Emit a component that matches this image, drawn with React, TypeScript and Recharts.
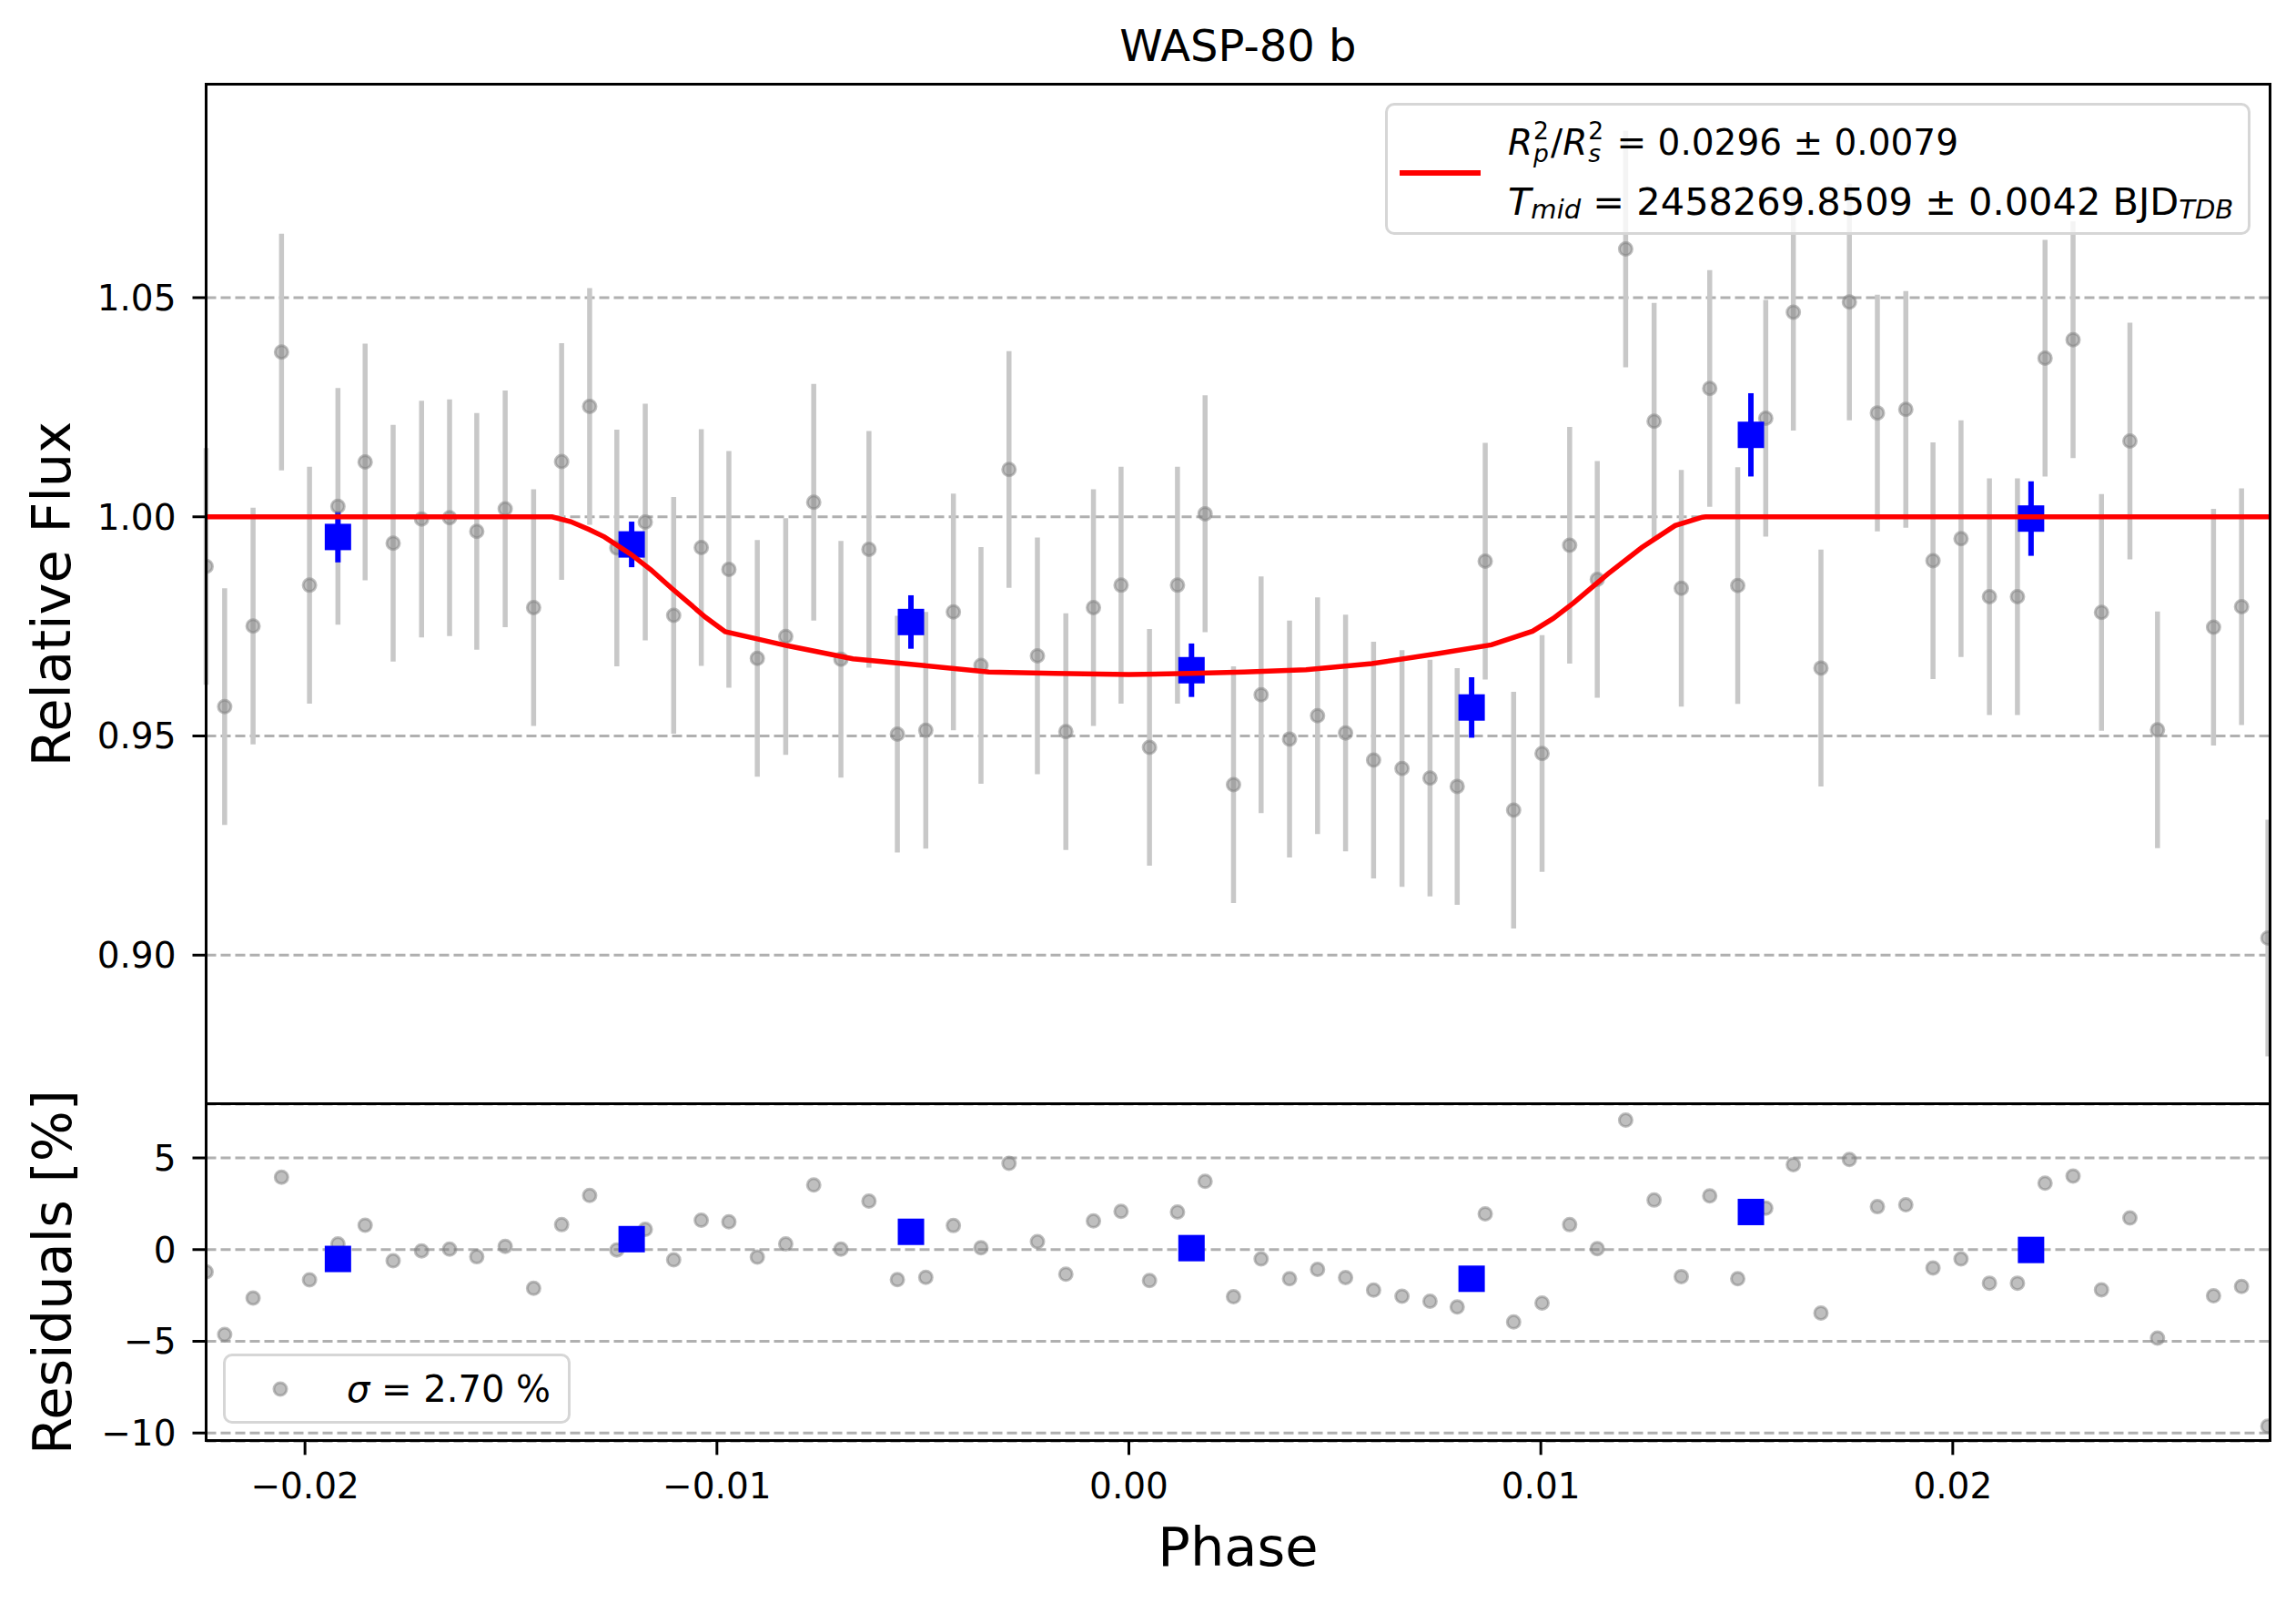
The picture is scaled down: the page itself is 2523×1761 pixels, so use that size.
import { ScatterChart, Scatter, XAxis, YAxis, CartesianGrid, ErrorBar } from 'recharts'

// light curve points (phase, relative flux) and residuals in %
const PHASE = [
  -0.0224, -0.02195, -0.02126, -0.02057, -0.01989, -0.0192, -0.01854, -0.01786, -0.01717, -0.01649,
  -0.01583, -0.01514, -0.01445, -0.01377, -0.01309, -0.01243, -0.01174, -0.01105, -0.01038, -0.00971,
  -0.00902, -0.00833, -0.00765, -0.00699, -0.00631, -0.00562, -0.00493, -0.00426, -0.00359, -0.00291,
  -0.00222, -0.00153, -0.00086, -0.00019, 0.0005, 0.00118, 0.00185, 0.00254, 0.00321, 0.0039,
  0.00458, 0.00526, 0.00594, 0.00663, 0.00731, 0.00797, 0.00865, 0.00934, 0.01003, 0.0107,
  0.01137, 0.01206, 0.01275, 0.01341, 0.0141, 0.01478, 0.01546, 0.01613, 0.0168, 0.01749,
  0.01817, 0.01886, 0.01952, 0.0202, 0.02089, 0.02157, 0.02224, 0.02292, 0.02361, 0.0243,
  0.02497, 0.02633, 0.02701, 0.02765,
]
const FLUX = [
  0.9887, 0.9567, 0.9751, 1.0376, 0.9844, 1.0024, 1.0125, 0.994, 0.9995, 0.9998,
  0.9967, 1.0018, 0.9793, 1.0126, 1.0252, 0.9929, 0.9988, 0.9775, 0.993, 0.988,
  0.9677, 0.9727, 1.0033, 0.9675, 0.9926, 0.9504, 0.9513, 0.9783, 0.9661, 1.0108,
  0.9683, 0.951, 0.9793, 0.9844, 0.9474, 0.9844, 1.0007, 0.9389, 0.9594, 0.9493,
  0.9546, 0.9507, 0.9445, 0.9426, 0.9404, 0.9385, 0.9899, 0.9331, 0.946, 0.9935,
  0.9857, 1.0611, 1.0218, 0.9837, 1.0293, 0.9843, 1.0225, 1.0467, 0.9655, 1.049,
  1.0237, 1.0245, 0.99, 0.995, 0.9818, 0.9818, 1.0362, 1.0404, 0.9782, 1.0173,
  0.9514, 0.9748, 0.9795, 0.9039,
]
const RESID = [
  -1.21, -4.63, -2.64, 3.95, -1.65, 0.31, 1.33, -0.61, -0.07, 0.02,
  -0.39, 0.18, -2.11, 1.36, 2.95, -0.02, 1.1, -0.56, 1.6, 1.51,
  -0.41, 0.31, 3.52, 0.02, 2.64, -1.64, -1.51, 1.31, 0.1, 4.7,
  0.43, -1.34, 1.56, 2.08, -1.69, 2.05, 3.72, -2.57, -0.51, -1.59,
  -1.08, -1.52, -2.21, -2.54, -2.82, -3.13, 1.95, -3.95, -2.91, 1.36,
  0.05, 7.06, 2.7, -1.47, 2.93, -1.59, 2.26, 4.63, -3.46, 4.91,
  2.34, 2.44, -1.0, -0.51, -1.83, -1.83, 3.62, 4.01, -2.19, 1.72,
  -4.83, -2.52, -2.01, -9.63,
]
const FLUX_ERR = 0.027

// binned points
const BIN_PHASE = [-0.0192, -0.01207, -0.00529, 0.00152, 0.00832, 0.0151, 0.0219]
const BIN_FLUX = [0.9954, 0.9937, 0.976, 0.965, 0.9565, 1.0187, 0.9996]
const BIN_ERR = [0.0058, 0.0052, 0.0061, 0.0061, 0.0069, 0.0095, 0.0085]
const BIN_RESID = [-0.51, 0.57, 0.97, 0.08, -1.59, 2.05, -0.02]

// transit model
const MODEL_PHASE = [
  -0.0224, -0.014, -0.01355, -0.0131, -0.01273, -0.01208, -0.0116, -0.0111, -0.01028, -0.0098,
  -0.009, -0.0083, -0.0067, -0.005, -0.0034, -0.0018, 0, 0.0015, 0.0028, 0.0043,
  0.0059, 0.0075, 0.0088, 0.0098, 0.0103, 0.0108, 0.01163, 0.01245, 0.01326, 0.01392,
  0.014, 0.0277,
]
const MODEL_FLUX = [
  1.0, 1.0, 0.9989, 0.9971, 0.9954, 0.9914, 0.9879, 0.9837, 0.9771, 0.9738,
  0.9721, 0.9706, 0.9676, 0.9661, 0.9646, 0.9643, 0.964, 0.9643, 0.9646, 0.9651,
  0.9665, 0.9688, 0.9708, 0.9739, 0.9768, 0.9804, 0.987, 0.993, 0.998, 0.9999,
  1.0, 1.0,
]

const X_TICKS = [-0.02, -0.01, 0, 0.01, 0.02]
const FLUX_TICKS = [0.9, 0.95, 1.0, 1.05]
const RESID_TICKS = [-10, -5, 0, 5]
const X_DOMAIN = [-0.0224, 0.0277]
const FLUX_DOMAIN = [0.8661, 1.0987]
const RESID_DOMAIN = [-10.45, 7.93]

// figure geometry (px)
const W = 2523
const H = 1761
const PLOT_L = 226.5
const PLOT_R = 2494.4
const MAIN_T = 92.5
const MAIN_B = 1212.5
const RES_B = 1582.8
const FONT = 'DejaVu Sans'

const fluxPoints = PHASE.map((x, i) => ({ x, y: FLUX[i], err: FLUX_ERR }))
const residPoints = PHASE.map((x, i) => ({ x, y: RESID[i] }))
const binPoints = BIN_PHASE.map((x, i) => ({ x, y: BIN_FLUX[i], err: BIN_ERR[i] }))
const binResid = BIN_PHASE.map((x, i) => ({ x, y: BIN_RESID[i] }))
const modelPoints = MODEL_PHASE.map((x, i) => ({ x, y: MODEL_FLUX[i] }))

const minus = (s: string) => s.replace('-', '\u2212')

const GrayDot = (p: any) => (
  <circle cx={p.cx} cy={p.cy} r={7} fill="#808080" fillOpacity={0.5} stroke="#808080" strokeOpacity={0.5} strokeWidth={3} />
)
const BlueSquare = (p: any) => <rect x={p.cx - 14.5} y={p.cy - 14.5} width={29} height={29} fill="#0000ff" />
const NoDot = () => <g />

const tickStyle = { fontSize: 39, fill: '#000', fontFamily: FONT }
const tickLine = { stroke: '#000', strokeWidth: 3 }

function MainPanel() {
  return (
    <ScatterChart width={W} height={MAIN_B} margin={{ top: MAIN_T, right: W - PLOT_R, bottom: 0, left: 0 }}>
      <CartesianGrid vertical={false} stroke="#b0b0b0" strokeWidth={3} strokeDasharray="11 5" />
      <XAxis type="number" dataKey="x" domain={X_DOMAIN} allowDataOverflow ticks={X_TICKS} hide />
      <YAxis
        type="number"
        dataKey="y"
        domain={FLUX_DOMAIN}
        allowDataOverflow
        ticks={FLUX_TICKS}
        width={PLOT_L}
        axisLine={false}
        tickLine={tickLine}
        tickSize={15}
        tickMargin={18}
        tick={tickStyle}
        tickFormatter={(v: number) => v.toFixed(2)}
      />
      <Scatter data={fluxPoints} dataKey="y" shape={GrayDot} isAnimationActive={false}>
        <ErrorBar dataKey="err" direction="y" width={0} stroke="#c8c8c8" strokeWidth={5.5} />
      </Scatter>
      <Scatter data={binPoints} dataKey="y" shape={BlueSquare} isAnimationActive={false}>
        <ErrorBar dataKey="err" direction="y" width={0} stroke="#0000ff" strokeWidth={6} />
      </Scatter>
      <Scatter
        data={modelPoints}
        dataKey="y"
        shape={NoDot}
        line={{ stroke: '#ff0000', strokeWidth: 5.5 }}
        isAnimationActive={false}
      />
    </ScatterChart>
  )
}

function ResidualPanel() {
  return (
    <ScatterChart width={W} height={H - MAIN_B} margin={{ top: 0, right: W - PLOT_R, bottom: 0, left: 0 }}>
      <CartesianGrid vertical={false} stroke="#b0b0b0" strokeWidth={3} strokeDasharray="11 5" />
      <XAxis
        type="number"
        dataKey="x"
        domain={X_DOMAIN}
        allowDataOverflow
        ticks={X_TICKS}
        height={H - MAIN_B - (RES_B - MAIN_B)}
        axisLine={false}
        tickLine={tickLine}
        tickSize={15}
        tickMargin={20}
        tick={tickStyle}
        tickFormatter={(v: number) => minus(v.toFixed(2))}
      />
      <YAxis
        type="number"
        dataKey="y"
        domain={RESID_DOMAIN}
        allowDataOverflow
        ticks={RESID_TICKS}
        width={PLOT_L}
        axisLine={false}
        tickLine={tickLine}
        tickSize={15}
        tickMargin={18}
        tick={tickStyle}
        tickFormatter={(v: number) => minus(String(v))}
      />
      <Scatter data={residPoints} dataKey="y" shape={GrayDot} isAnimationActive={false} />
      <Scatter data={binResid} dataKey="y" shape={BlueSquare} isAnimationActive={false} />
    </ScatterChart>
  )
}

const Stack = ({ sup, sub }: { sup: string; sub: string }) => (
  <span
    style={{
      display: 'inline-flex',
      flexDirection: 'column',
      fontSize: '0.68em',
      lineHeight: 0.95,
      verticalAlign: 'middle',
      margin: '0 2px 0 1px',
    }}
  >
    <span>{sup}</span>
    <span style={{ fontStyle: 'italic' }}>{sub}</span>
  </span>
)

const frame = (top: number, bottom: number): React.CSSProperties => ({
  position: 'absolute',
  left: PLOT_L - 1.5,
  top: top - 1.5,
  width: PLOT_R - PLOT_L + 3,
  height: bottom - top + 3,
  border: '3px solid #000',
  boxSizing: 'border-box',
  pointerEvents: 'none',
})

export default function App() {
  const legendBox: React.CSSProperties = {
    position: 'absolute',
    border: '3px solid #d6d6d6',
    borderRadius: 10,
    background: 'rgba(255,255,255,0.8)',
    boxSizing: 'border-box',
    fontFamily: FONT,
    color: '#000',
  }
  const legendLine: React.CSSProperties = {
    position: 'absolute',
    left: 132,
    height: 50,
    display: 'flex',
    alignItems: 'center',
    whiteSpace: 'nowrap',
    fontSize: 41,
  }

  return (
    <div style={{ position: 'absolute', left: 0, top: 0, width: W, height: H, background: '#fff', overflow: 'hidden' }}>
      <div style={{ position: 'absolute', left: 0, top: 0 }}>
        <MainPanel />
      </div>
      <div style={{ position: 'absolute', left: 0, top: MAIN_B }}>
        <ResidualPanel />
      </div>

      <div style={frame(MAIN_T, MAIN_B)} />
      <div style={frame(MAIN_B, RES_B)} />

      <svg width={W} height={H} style={{ position: 'absolute', left: 0, top: 0, pointerEvents: 'none' }}>
        <text x={(PLOT_L + PLOT_R) / 2} y={67} textAnchor="middle" fontSize={48} fontFamily={FONT} fill="#000">
          WASP-80 b
        </text>
        <text
          transform={`translate(77, ${(MAIN_T + MAIN_B) / 2}) rotate(-90)`}
          textAnchor="middle"
          fontSize={59}
          fontFamily={FONT}
          fill="#000"
        >
          Relative Flux
        </text>
        <text
          transform={`translate(78, ${(MAIN_B + RES_B) / 2}) rotate(-90)`}
          textAnchor="middle"
          fontSize={59}
          fontFamily={FONT}
          fill="#000"
        >
          Residuals [%]
        </text>
        <text x={(PLOT_L + PLOT_R) / 2} y={1720} textAnchor="middle" fontSize={59} fontFamily={FONT} fill="#000">
          Phase
        </text>
      </svg>

      {/* model legend */}
      <div style={{ ...legendBox, left: 1522, top: 113, width: 951, height: 145 }}>
        <div style={{ position: 'absolute', left: 13, top: 71, width: 89, height: 5.5, background: '#ff0000' }} />
        <div style={{ ...legendLine, top: 15, fontSize: 39 }}>
          <i>R</i>
          <Stack sup="2" sub="p" />
          /<i>R</i>
          <Stack sup="2" sub="s" />
          <span>&nbsp;= 0.0296 ± 0.0079</span>
        </div>
        <div style={{ ...legendLine, top: 80, fontSize: 41.5 }}>
          <i>T</i>
          <span style={{ fontSize: '0.7em', fontStyle: 'italic', position: 'relative', top: 9 }}>mid</span>
          <span>&nbsp;= 2458269.8509 ± 0.0042 BJD</span>
          <span style={{ fontSize: '0.7em', fontStyle: 'italic', position: 'relative', top: 9 }}>TDB</span>
        </div>
      </div>

      {/* residual legend */}
      <div style={{ ...legendBox, left: 245, top: 1487, width: 382, height: 77 }}>
        <svg width={40} height={40} style={{ position: 'absolute', left: 40, top: 16 }}>
          <circle cx={20} cy={20} r={7} fill="#808080" fillOpacity={0.5} stroke="#808080" strokeOpacity={0.5} strokeWidth={3} />
        </svg>
        <div style={{ position: 'absolute', left: 133, top: 11, height: 50, display: 'flex', alignItems: 'center', fontSize: 40, whiteSpace: 'nowrap' }}>
          <i>σ</i>&nbsp;= 2.70 %
        </div>
      </div>
    </div>
  )
}
